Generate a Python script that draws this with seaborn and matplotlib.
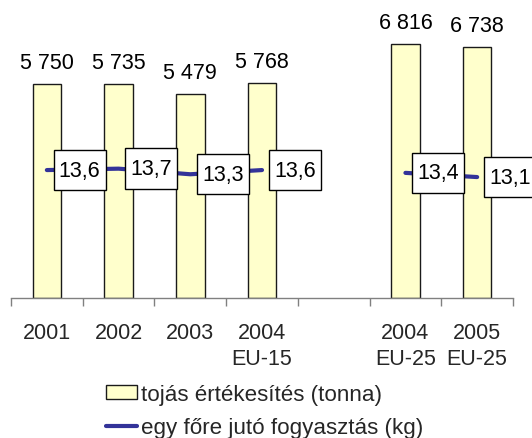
import numpy as np
import pandas as pd
import matplotlib
matplotlib.use("Agg")
import matplotlib.pyplot as plt
import seaborn as sns
from matplotlib.patches import Patch
from matplotlib.lines import Line2D
from matplotlib.path import Path

categories = ["2001", "2002", "2003", "2004\nEU-15", "2004\nEU-25", "2005\nEU-25"]
order = ["2001", "2002", "2003", "2004\nEU-15", "gap", "2004\nEU-25", "2005\nEU-25"]
sales = [5750, 5735, 5479, 5768, 6816, 6738]
sales_labels = ["5 750", "5 735", "5 479", "5 768", "6 816", "6 738"]
consumption = [13.6, 13.7, 13.3, 13.6, 13.4, 13.1]
cons_labels = ["13,6", "13,7", "13,3", "13,6", "13,4", "13,1"]
segment = ["EU-15", "EU-15", "EU-15", "EU-15", "EU-25", "EU-25"]
legend_labels = ["tojás értékesítés (tonna)", "egy főre jutó fogyasztás (kg)"]

sns.set_style("white")
plt.rcParams["font.family"] = ["Liberation Sans", "DejaVu Sans"]
FS = 15.5

BAR_COLOR = "#FFFFCC"
LINE_COLOR = "#333399"


def label_box(x0, y0, width, height, mutation_size):
    px = 0.24 * mutation_size
    py = 0.45 * mutation_size
    x0, y0 = x0 - px, y0 - py
    x1, y1 = x0 + width + 2 * px, y0 + height + 2 * py
    return Path([(x0, y0), (x1, y0), (x1, y1), (x0, y1), (x0, y0)], closed=True)


df = pd.DataFrame({"cat": categories, "sales": sales, "kg": consumption, "seg": segment})
df["pos"] = [order.index(c) for c in categories]

fig = plt.figure(figsize=(5.32, 4.39), dpi=100)
ax = fig.add_axes([11 / 532, 1 - 299 / 439, 502 / 532, 298 / 439])

sns.barplot(data=df, x="cat", y="sales", order=order, color=BAR_COLOR,
            saturation=1, width=0.4, edgecolor="#1a1a1a", linewidth=1.0, ax=ax)
ax.set_ylim(0, 8000)
ax.set_xlim(-0.5, len(order) - 0.5)

for pos, v, lab in zip(df["pos"], sales, sales_labels):
    ax.annotate(lab, (pos, v), xytext=(0, 11), textcoords="offset pixels",
                ha="center", va="bottom", fontsize=FS, color="black")

ax2 = ax.twinx()
sns.lineplot(data=df, x="pos", y="kg", units="seg", estimator=None,
             color=LINE_COLOR, linewidth=3.0, ax=ax2, legend=False, zorder=3)
ax2.set_ylim(4.46, 25.75)
ax2.set_xlim(-0.5, len(order) - 0.5)
for pos, v, lab in zip(df["pos"], consumption, cons_labels):
    ax2.annotate(lab, (pos, v), xytext=(12, 0), textcoords="offset pixels",
                 ha="left", va="center", fontsize=FS, color="black", zorder=5,
                 bbox=dict(boxstyle=label_box, fc="white", ec="black", lw=1.0),
                 annotation_clip=False)

for a in (ax, ax2):
    a.set_ylabel("")
    a.set_xlabel("")
    a.set_yticks([])
    for s in ("left", "right", "top"):
        a.spines[s].set_visible(False)
ax2.spines["bottom"].set_visible(False)
ax2.tick_params(axis="x", which="both", bottom=False, labelbottom=False)
ax.spines["bottom"].set_color("#808080")
ax.spines["bottom"].set_linewidth(1.0)

ax.set_xticks(np.arange(len(order) + 1) - 0.5)
ax.set_xticklabels([""] * (len(order) + 1))
ax.tick_params(axis="x", which="major", direction="out", length=5.5, width=1.0,
               color="#808080", bottom=True)
tick_text = ["" if c == "gap" else c for c in order]
ax.set_xticks(np.arange(len(order)), minor=True)
ax.set_xticklabels(tick_text, minor=True, fontsize=FS, linespacing=1.32)
ax.tick_params(axis="x", which="minor", length=0, pad=17, bottom=True)

handles = [Patch(facecolor=BAR_COLOR, edgecolor="#1a1a1a", linewidth=1.0),
           Line2D([0], [0], color=LINE_COLOR, linewidth=3.0)]
fig.legend(handles, legend_labels, loc="upper left", bbox_to_anchor=(106 / 532, 1 - 385 / 439),
           frameon=False, fontsize=16.1, handlelength=1.4, handleheight=0.55,
           handletextpad=0.15, labelspacing=0.55, borderpad=0, borderaxespad=0)

fig.savefig("out.png", dpi=100)
